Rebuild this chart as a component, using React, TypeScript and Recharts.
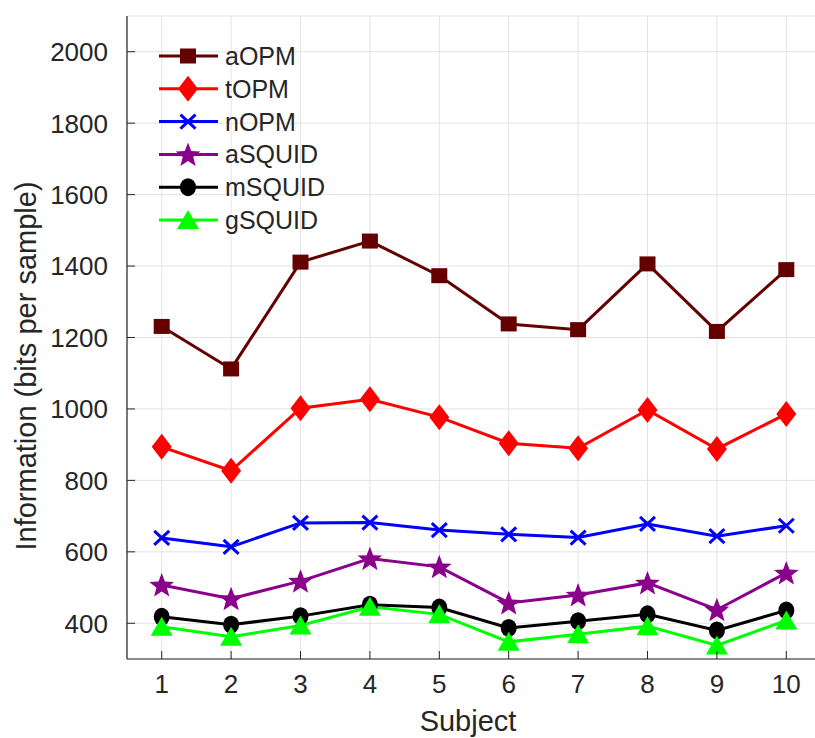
import React from 'react';
import { LineChart, Line, XAxis, YAxis, CartesianGrid, Legend } from 'recharts';

const subjects = [1, 2, 3, 4, 5, 6, 7, 8, 9, 10];
const aOPM = [1231, 1112, 1411, 1470, 1373, 1238, 1222, 1406, 1217, 1390];
const tOPM = [894, 827, 1002, 1027, 977, 904, 890, 997, 888, 986];
const nOPM = [639, 614, 681, 682, 661, 649, 640, 678, 644, 673];
const aSQUID = [507, 469, 518, 581, 558, 457, 479, 513, 438, 541];
const mSQUID = [418, 396, 420, 452, 444, 387, 406, 425, 380, 436];
const gSQUID = [390, 362, 394, 446, 425, 348, 369, 392, 338, 408];

const xTicks = [1, 2, 3, 4, 5, 6, 7, 8, 9, 10];
const yTicks = [400, 600, 800, 1000, 1200, 1400, 1600, 1800, 2000];

const seriesNames = ['aOPM', 'tOPM', 'nOPM', 'aSQUID', 'mSQUID', 'gSQUID'];
const seriesValues = [aOPM, tOPM, nOPM, aSQUID, mSQUID, gSQUID];
const seriesColors = ['#640000', '#ff0000', '#0000ff', '#8b008b', '#000000', '#00ff00'];
const seriesMarkers = ['square', 'diamond', 'x', 'star', 'circle', 'triangle'];

const data = subjects.map((s, i) => {
  const row: any = { subject: s };
  seriesNames.forEach((n, k) => {
    row[n] = seriesValues[k][i];
  });
  return row;
});

const FONT = "'Liberation Sans', Arial, Helvetica, sans-serif";
const TEXT = '#262626';

function Marker({ type, cx, cy, color }: { type: string; cx: number; cy: number; color: string }) {
  switch (type) {
    case 'square':
      return <rect x={cx - 8} y={cy - 7.5} width={16} height={15} fill={color} />;
    case 'diamond':
      return (
        <polygon
          points={`${cx},${cy - 13} ${cx + 10},${cy} ${cx},${cy + 13} ${cx - 10},${cy}`}
          fill={color}
        />
      );
    case 'x':
      return (
        <path
          d={`M${cx - 7.5},${cy - 7} L${cx + 7.5},${cy + 7} M${cx + 7.5},${cy - 7} L${cx - 7.5},${cy + 7}`}
          stroke={color}
          strokeWidth={3}
          fill="none"
        />
      );
    case 'star': {
      const pts: string[] = [];
      for (let i = 0; i < 10; i++) {
        const r = i % 2 === 0 ? 13 : 5.5;
        const a = -Math.PI / 2 + (i * Math.PI) / 5;
        pts.push(`${cx + r * Math.cos(a)},${cy + 1 + r * Math.sin(a)}`);
      }
      return <polygon points={pts.join(' ')} fill={color} />;
    }
    case 'circle':
      return <ellipse cx={cx} cy={cy} rx={8} ry={9} fill={color} />;
    case 'triangle':
      return (
        <polygon
          points={`${cx},${cy - 10} ${cx + 11},${cy + 9} ${cx - 11},${cy + 9}`}
          fill={color}
        />
      );
    default:
      return null;
  }
}

const YTick = (props: any) => {
  const { x, y, payload } = props;
  return (
    <g>
      <line x1={x + 19} x2={x + 27} y1={y} y2={y} stroke={TEXT} strokeWidth={1} />
      <text x={x} y={y} dy="0.36em" textAnchor="end" fontFamily={FONT} fontSize={26} fill={TEXT}>
        {payload.value}
      </text>
    </g>
  );
};

const XTick = (props: any) => {
  const { x, y, payload } = props;
  return (
    <g>
      <line x1={x} x2={x} y1={y} y2={y - 8} stroke={TEXT} strokeWidth={1} />
      <text x={x} y={y + 34} textAnchor="middle" fontFamily={FONT} fontSize={26} fill={TEXT}>
        {payload.value}
      </text>
    </g>
  );
};

const TopTick = (props: any) => {
  const { x, y } = props;
  return <line x1={x} x2={x} y1={y} y2={y + 8} stroke={TEXT} strokeWidth={1} />;
};

const LegendContent = (props: any) => {
  const payload = [...(props.payload || [])].sort(
    (a: any, b: any) => seriesNames.indexOf(a.value) - seriesNames.indexOf(b.value)
  );
  return (
    <svg width={240} height={210} style={{ display: 'block' }}>
      {payload.map((entry: any, i: number) => {
        const k = seriesNames.indexOf(entry.value);
        const cy = 21 + i * 32.8;
        const color = seriesColors[k];
        return (
          <g key={entry.value}>
            <line x1={9} x2={68} y1={cy} y2={cy} stroke={color} strokeWidth={3} />
            <Marker type={seriesMarkers[k]} cx={38} cy={cy} color={color} />
            <text x={75} y={cy} dy="0.36em" fontFamily={FONT} fontSize={25} fill={TEXT}>
              {entry.value}
            </text>
          </g>
        );
      })}
    </svg>
  );
};

export default function App() {
  return (
    <div
      style={{
        position: 'absolute',
        left: 0,
        top: 0,
        width: 815,
        height: 738,
        overflow: 'hidden',
        background: '#ffffff',
      }}
    >
      <LineChart width={830} height={738} data={data} margin={{ top: 16, right: 9, bottom: 0, left: 0 }}>
        <CartesianGrid stroke="#e3e3e3" strokeWidth={1} />
        <XAxis
          dataKey="subject"
          type="number"
          domain={[0.5, 10.5]}
          ticks={xTicks}
          height={79}
          tickSize={0}
          tickMargin={0}
          tick={<XTick />}
          axisLine={{ stroke: TEXT, strokeWidth: 1.2 }}
          tickLine={false}
          interval={0}
          allowDataOverflow
        />
        <XAxis
          xAxisId="top"
          orientation="top"
          dataKey="subject"
          type="number"
          domain={[0.5, 10.5]}
          ticks={xTicks}
          height={0}
          tickSize={0}
          tickMargin={0}
          tick={<TopTick />}
          axisLine={{ stroke: TEXT, strokeWidth: 1.2 }}
          tickLine={false}
          interval={0}
        />
        <YAxis
          type="number"
          domain={[300, 2100]}
          ticks={yTicks}
          width={127}
          tickSize={0}
          tickMargin={19}
          tick={<YTick />}
          axisLine={{ stroke: TEXT, strokeWidth: 1.2 }}
          tickLine={false}
          interval={0}
          allowDataOverflow
        />
        <Legend
          layout="vertical"
          align="center"
          verticalAlign="middle"
          wrapperStyle={{ position: 'absolute', left: 150, top: 35, width: 240, height: 210 }}
          content={<LegendContent />}
        />
        {seriesNames.map((n, k) => (
          <Line
            key={n}
            dataKey={n}
            name={n}
            stroke={seriesColors[k]}
            strokeWidth={3}
            isAnimationActive={false}
            dot={(p: any) => (
              <Marker
                key={`${n}-${p.index}`}
                type={seriesMarkers[k]}
                cx={p.cx}
                cy={p.cy}
                color={seriesColors[k]}
              />
            )}
            activeDot={false}
          />
        ))}
      </LineChart>
      <svg
        width={815}
        height={738}
        style={{ position: 'absolute', left: 0, top: 0, pointerEvents: 'none' }}
      >
        <text x={468} y={731} textAnchor="middle" fontFamily={FONT} fontSize={29} fill={TEXT}>
          Subject
        </text>
        <text
          transform="translate(36,366) rotate(-90)"
          textAnchor="middle"
          fontFamily={FONT}
          fontSize={29}
          fill={TEXT}
        >
          Information (bits per sample)
        </text>
      </svg>
    </div>
  );
}
